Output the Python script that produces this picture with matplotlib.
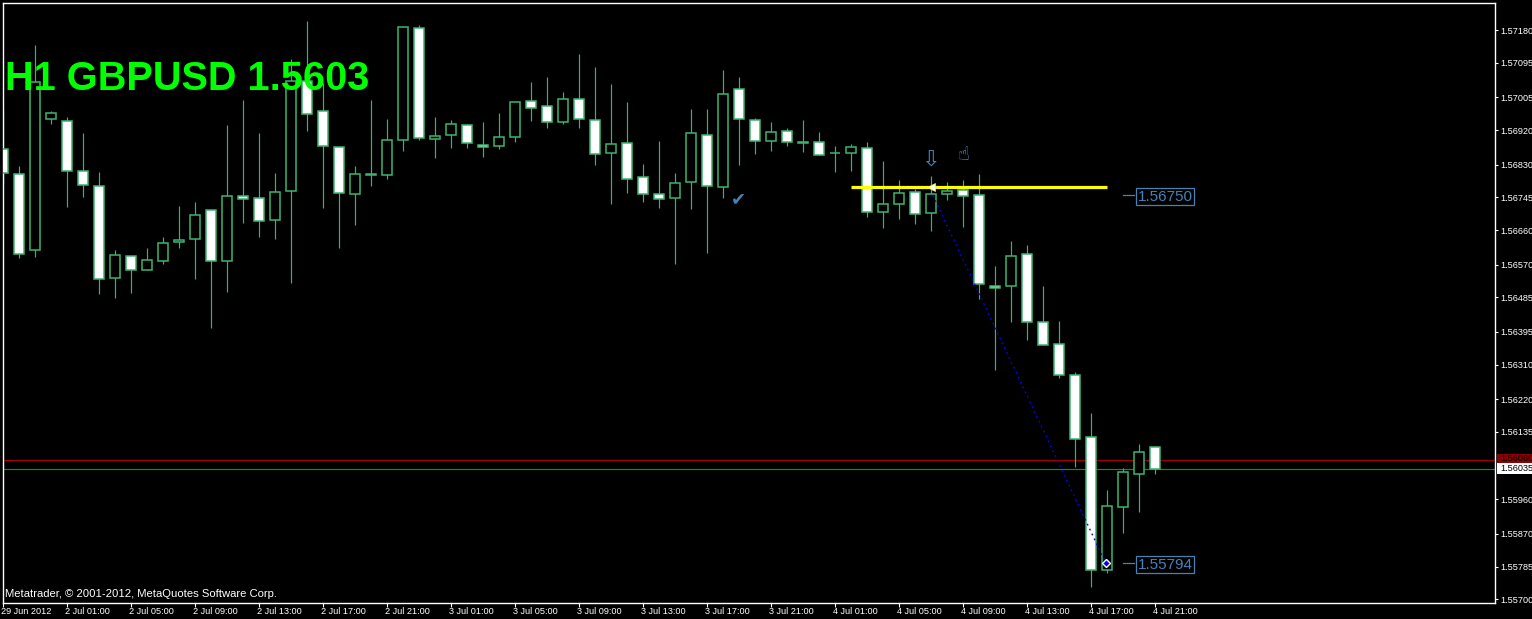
import numpy as np
import matplotlib
matplotlib.use("Agg")
import matplotlib.pyplot as plt
from matplotlib.patches import Rectangle
from matplotlib.transforms import ScaledTranslation

# Prices, in 1e-5 units (points)
bar_open = [156870,156805,156607,156948,156943,156813,156774,156534,156592,156555,156579,156628,156636,156711,156579,156748,156742,156685,156761,157047,156969,156875,156753,156805,156802,156893,157184,156896,156906,156932,156880,156878,156901,156995,156982,156940,157000,156945,156859,156885,156797,156753,156742,156784,156906,156771,157026,156945,156891,156917,156888,156888,156859,156859,156872,156706,156727,156758,156703,156753,156763,156750,156514,156514,156597,156420,156363,156282,156121,155775,155939,156025,156095]
bar_close = [156807,156597,157044,156963,156814,156776,156532,156594,156555,156581,156625,156633,156698,156579,156748,156740,156683,156758,157047,156961,156878,156755,156805,156802,156893,157187,156898,156904,156935,156885,156875,156901,156992,156976,156940,157000,156948,156857,156883,156792,156753,156740,156781,156911,156774,157013,156948,156891,156914,156888,156885,156854,156859,156875,156706,156727,156755,156701,156753,156761,156748,156519,156508,156592,156420,156360,156282,156116,155775,155942,156030,156082,156038]
bar_high = [156972,156826,157140,156969,156954,156911,156810,156607,156592,156612,156641,156722,156732,156711,156932,156997,156911,156807,157104,157203,157042,156875,156826,156997,156948,157190,157193,156954,156945,156935,156941,156963,156995,157044,157057,157018,157117,157083,157039,156992,156831,156891,156807,156974,156974,157075,157057,156950,156940,156924,156946,156914,156878,156883,156888,156839,156789,156766,156800,156784,156789,156805,156566,156631,156620,156514,156423,156290,156183,155983,156040,156103,156098]
bar_low = [156783,156588,156591,156936,156721,156747,156494,156484,156497,156555,156572,156614,156532,156406,156500,156679,156643,156637,156523,156918,156718,156614,156674,156775,156793,156865,156895,156848,156874,156874,156851,156871,156890,156944,156926,156936,156926,156830,156728,156757,156734,156718,156572,156715,156601,156744,156830,156858,156866,156879,156864,156854,156812,156814,156693,156666,156689,156676,156658,156739,156669,156480,156295,156422,156375,156360,156274,156045,155733,155767,155873,155928,156025]

y_ticks = [1.57180,1.57095,1.57005,1.56920,1.56830,1.56745,1.56660,1.56570,1.56485,1.56395,1.56310,1.56220,1.56135,1.55960,1.55870,1.55785,1.55700]
y_labels = ["1.57180","1.57095","1.57005","1.56920","1.56830","1.56745","1.56660","1.56570","1.56485","1.56395","1.56310","1.56220","1.56135","1.55960","1.55870","1.55785","1.55700"]
x_tick_bars = [0,4,8,12,16,20,24,28,32,36,40,44,48,52,56,60,64,68,72]
x_labels = ["29 Jun 2012","2 Jul 01:00","2 Jul 05:00","2 Jul 09:00","2 Jul 13:00","2 Jul 17:00","2 Jul 21:00",
            "3 Jul 01:00","3 Jul 05:00","3 Jul 09:00","3 Jul 13:00","3 Jul 17:00","3 Jul 21:00",
            "4 Jul 01:00","4 Jul 05:00","4 Jul 09:00","4 Jul 13:00","4 Jul 17:00","4 Jul 21:00"]

ask_line = 1.56062
bid_line = 1.56038
ask_tag = "1.56060"
bid_tag = "1.56035"
hline_bars = [53, 69]
hline_price = 1.56771
trade_bars = [58.1, 68.9]
trade_prices = [1.56750, 1.55794]
title = "H1 GBPUSD 1.5603"
credit = "Metatrader, © 2001-2012, MetaQuotes Software Corp."

CANDLE = "#3CB371"
BLUE = "#4682B4"

o, c, h, l = [np.array(a) / 1e5 for a in (bar_open, bar_close, bar_high, bar_low)]
x = np.arange(len(o))

plt.rcParams["font.family"] = ["Liberation Sans", "DejaVu Sans"]
W, H = 1532, 619
fig = plt.figure(figsize=(W / 100, H / 100), dpi=100, facecolor="black")
L, R, T, B = 2.5, 1494.5, 2.5, 602.5
ax = fig.add_axes([L / W, 1 - B / H, (R - L) / W, (B - T) / H], facecolor="black")
ax.set_xlim(-0.05, 93.2)
ax.set_ylim(1.556915, 1.572515)

lw1 = 0.85
ax.axhline(ask_line, color="#A00000", lw=lw1, zorder=1, snap=True)
ax.axhline(bid_line, color="#1E8A1E", lw=lw1, zorder=1, snap=True)

ax.vlines(x, l, h, color=CANDLE, lw=lw1, zorder=2, snap=True)
bear = c <= o
ax.bar(x, np.abs(o - c), bottom=np.minimum(o, c), width=0.64,
       color=np.where(bear, "white", "black").tolist(), edgecolor=CANDLE, linewidth=1.1, zorder=3, snap=True)

# Trade line and objects
ax.plot(hline_bars, [hline_price] * 2, color="#FFFF00", lw=2.3, zorder=5, solid_capstyle="butt")
ax.plot(trade_bars, trade_prices, color="#0000FF", lw=1.0, ls=(0, (1.3, 2.6)), zorder=6)
ax.plot([58.0], [hline_price], marker="<", color="white", ms=6, mec="#FFFF00", mew=0.5, zorder=7, ls="none")
ax.plot([trade_bars[1]], [trade_prices[1]], marker="D", color="#0000FF", ms=4, mec="white", mew=1.0, zorder=7, ls="none")

for price in trade_prices:
    ax.plot([70, 70.65], [price] * 2, color=BLUE, lw=0.9, zorder=5)
    ax.text(72.6, price, f"{price:.5f}", color=BLUE, fontsize=11, ha="center", va="center_baseline", zorder=6,
            bbox=dict(boxstyle="square,pad=0.1", fc="black", ec=BLUE, lw=0.9))

# Icons
ax.text(57.95, 1.56842, "\u21e9", color=BLUE, fontsize=16, ha="center", va="center", family="DejaVu Sans", zorder=6)
ax.text(60.0, 1.56855, "\u261d", color="#5A9BD5", fontsize=14, ha="center", va="center", family="DejaVu Sans", zorder=6)
ax.text(45.95, 1.56741, "\u2714", color=BLUE, fontsize=13, ha="center", va="center", family="DejaVu Sans", zorder=6)

# Text overlays
fig.text(5 / W, 1 - 90 / H, title, color="#00FF00", fontsize=28.6, fontweight="bold", family="Liberation Sans", zorder=10)
fig.text(5 / W, 1 - 597 / H, credit, color="white", fontsize=8.1, family="Liberation Sans", zorder=10)

# Axes
for s in ax.spines.values():
    s.set_color("white")
    s.set_linewidth(1.0)
ax.yaxis.tick_right()
ax.set_yticks(y_ticks)
ax.set_yticklabels(y_labels)
ax.tick_params(axis="y", colors="white", length=2.5, width=0.8, labelsize=6.6, pad=1.6)
ax.set_xticks(x_tick_bars)
ax.set_xticklabels(x_labels, ha="left")
ax.tick_params(axis="x", colors="white", length=3, width=0.8, labelsize=6.6, pad=0.6)
for lab in ax.get_xticklabels():
    lab.set_transform(lab.get_transform() + ScaledTranslation(-2 / 100, 0, fig.dpi_scale_trans))

# Current price tags on the scale
fig.patches.append(Rectangle((1497 / W, 1 - 463 / H), 35 / W, 9 / H, transform=fig.transFigure, fc="#8B0000", ec="none"))
fig.patches.append(Rectangle((1497 / W, 1 - 474 / H), 35 / W, 11 / H, transform=fig.transFigure, fc="white", ec="none"))
for tag, ypx in ((ask_tag, 458.5), (bid_tag, 468.7)):
    fig.text(1500.5 / W, 1 - ypx / H, tag, color="black", fontsize=6.6, ha="left", va="center", zorder=20)

fig.savefig("out.png", dpi=100, facecolor="black")
